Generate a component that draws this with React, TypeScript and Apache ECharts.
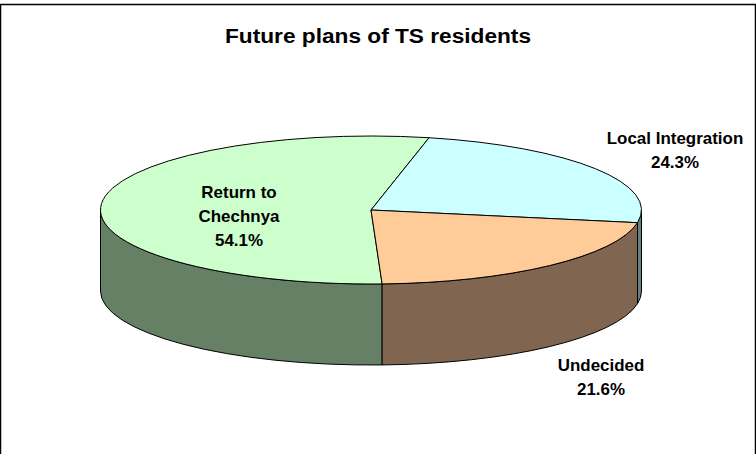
import React, { useEffect, useRef } from "react";
import * as echarts from "echarts";

const categories = ["Return to Chechnya", "Local Integration", "Undecided"];
const labelLines = [["Return to", "Chechnya"], ["Local Integration"], ["Undecided"]];
const values = [54.1, 24.3, 21.6];
const topColors = ["#CCFFCC", "#CCFFFF", "#FFCC99"];
const sideColors = ["#668066", "#668080", "#806650"];
const titleText = "Future plans of TS residents";

// slices run clockwise; the first slice ends at 12.4° from "up"
const FIRST_START = 12.4 - 54.1 * 3.6 + 360;
const CX = 371, CY = 210, RX = 270.5, RY = 74, DEPTH = 81;
const FONT_FAMILY = '"Liberation Sans", Arial, sans-serif';

const pt = (deg: number, dy = 0) => {
  const a = (deg * Math.PI) / 180;
  return [CX + RX * Math.sin(a), CY - RY * Math.cos(a) + dy];
};
const f = (p: number[]) => `${p[0].toFixed(2)} ${p[1].toFixed(2)}`;
const sliceRange = (i: number) => {
  let s = FIRST_START;
  for (let k = 0; k < i; k++) s += (values[k] / 100) * 360;
  return [s, s + (values[i] / 100) * 360];
};
const arc = (to: number[], large: boolean, sweep: number) =>
  `A ${RX} ${RY} 0 ${large ? 1 : 0} ${sweep} ${f(to)}`;

const topPath = (a0: number, a1: number) =>
  `M ${CX} ${CY} L ${f(pt(a0))} ${arc(pt(a1), a1 - a0 > 180, 1)} Z`;

// front wall: only the part of a slice between 90° and 270° (mod 360) can be seen
const sidePath = (a0: number, a1: number) => {
  const parts: string[] = [];
  for (const shift of [0, 360, -360]) {
    const s = Math.max(a0 + shift, 90);
    const e = Math.min(a1 + shift, 270);
    if (e > s) {
      parts.push(
        `M ${f(pt(s))} ${arc(pt(e), false, 1)} L ${f(pt(e, DEPTH))} ${arc(pt(s, DEPTH), false, 0)} Z`
      );
    }
  }
  return parts.join(" ");
};

export default function App() {
  const ref = useRef<HTMLDivElement>(null);
  useEffect(() => {
    const chart = echarts.init(ref.current!, null, { renderer: "svg" });
    const stroke = { stroke: "#000", lineWidth: 1, lineJoin: "round" };
    const labelAt = [
      { x: 239, y: 192 },
      { x: 675, y: 138 },
      { x: 601, y: 365 },
    ];
    const textEl = (t: string, x: number, y: number, size: number, widen: number) => ({
      type: "text",
      x,
      y,
      scaleX: widen,
      silent: true,
      z: 20,
      style: {
        text: t,
        fill: "#000",
        font: `bold ${size}px ${FONT_FAMILY}`,
        textAlign: "center",
        textVerticalAlign: "middle",
      },
    });
    const labelEls: any[] = [];
    values.forEach((v, i) => {
      [...labelLines[i], `${v.toFixed(1)}%`].forEach((t, j) => {
        labelEls.push(textEl(t, labelAt[i].x, labelAt[i].y + j * 24, 16, 1.06));
      });
    });
    chart.setOption({
      animation: false,
      backgroundColor: "#fff",
      series: [
        {
          type: "custom",
          name: "sides",
          coordinateSystem: "none",
          silent: true,
          z: 2,
          data: categories.map((name, i) => ({ name, value: [values[i]] })),
          renderItem: (params: any) => {
            const [a0, a1] = sliceRange(params.dataIndex);
            const d = sidePath(a0, a1);
            if (!d) return { type: "group", children: [] };
            return {
              type: "path",
              shape: { pathData: d },
              style: { fill: sideColors[params.dataIndex], ...stroke },
            };
          },
        },
        {
          type: "custom",
          name: "tops",
          coordinateSystem: "none",
          silent: true,
          z: 3,
          data: categories.map((name, i) => ({ name, value: [values[i]] })),
          renderItem: (params: any) => {
            const [a0, a1] = sliceRange(params.dataIndex);
            return {
              type: "path",
              shape: { pathData: topPath(a0, a1) },
              style: { fill: topColors[params.dataIndex], ...stroke },
            };
          },
        },
      ],
      graphic: [
        { type: "rect", silent: true, z: 10, shape: { x: 0.5, y: 4.5, width: 755, height: 460 }, style: { fill: "none", stroke: "#000", lineWidth: 1.5 } },
        textEl(titleText, 378, 36, 21, 1.08),
        ...labelEls,
      ],
    });
    return () => chart.dispose();
  }, []);
  return <div ref={ref} style={{ position: "absolute", left: 0, top: 0, width: 756, height: 454 }} />;
}
